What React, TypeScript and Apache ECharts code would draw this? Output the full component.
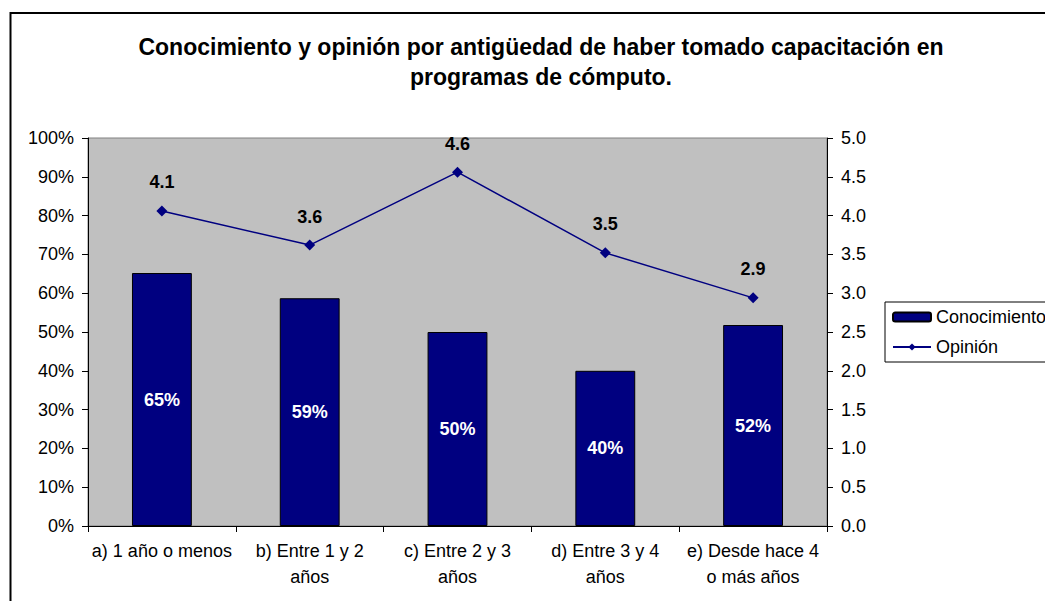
import React, { useEffect, useRef } from "react";
import * as echarts from "echarts";

const categories = [
  "a) 1 año o menos",
  "b) Entre 1 y 2\naños",
  "c) Entre 2 y 3\naños",
  "d) Entre 3 y 4\naños",
  "e) Desde hace 4\no más años",
];
const conocimiento = [0.652, 0.587, 0.5, 0.4, 0.518];
const opinion = [4.06, 3.62, 4.56, 3.52, 2.94];
const leftTicks = [0, 0.1, 0.2, 0.3, 0.4, 0.5, 0.6, 0.7, 0.8, 0.9, 1.0];
const rightTicks = [0, 0.5, 1, 1.5, 2, 2.5, 3, 3.5, 4, 4.5, 5];
const titleText =
  "Conocimiento y opinión por antigüedad de haber tomado capacitación en\nprogramas de cómputo.";

const FONT = "'Liberation Sans', Arial, sans-serif";
const NAVY = "#000080";

export default function App() {
  const ref = useRef<HTMLDivElement>(null);
  useEffect(() => {
    if (!ref.current) return;
    const chart = echarts.init(ref.current, undefined, { renderer: "svg" });
    chart.setOption({
      animation: false,
      backgroundColor: "#ffffff",
      textStyle: { fontFamily: FONT },
      title: {
        text: titleText,
        left: 536,
        top: 27,
        textAlign: "center",
        textStyle: {
          fontFamily: FONT,
          fontSize: 23,
          fontWeight: "bold",
          color: "#000",
          lineHeight: 30,
        },
      },
      graphic: [
        {
          type: "rect",
          shape: { x: 10.5, y: 13, width: 1200, height: 800 },
          style: { fill: "none", stroke: "#000", lineWidth: 2 },
          silent: true,
        },
      ],
      legend: {
        orient: "vertical",
        left: 885,
        top: 302,
        padding: [6, 40, 6, 7],
        itemGap: 12,
        itemWidth: 38,
        itemHeight: 9,
        borderColor: "#000",
        borderWidth: 1,
        backgroundColor: "#fff",
        textStyle: { fontFamily: FONT, fontSize: 18, color: "#000" },
        data: ["Conocimiento", "Opinión"],
      },
      grid: {
        left: 88,
        right: 218,
        top: 138,
        bottom: 75,
        show: true,
        backgroundColor: "#c0c0c0",
        borderColor: "#808080",
        borderWidth: 1,
      },
      xAxis: {
        type: "category",
        data: categories,
        axisLine: { lineStyle: { color: "#000", width: 1 } },
        axisTick: { show: true, length: 6, lineStyle: { color: "#000" } },
        axisLabel: {
          fontFamily: FONT,
          fontSize: 18,
          color: "#000",
          lineHeight: 26,
          margin: 12,
          interval: 0,
        },
      },
      yAxis: [
        {
          type: "value",
          min: leftTicks[0],
          max: leftTicks[leftTicks.length - 1],
          interval: 0.1,
          splitLine: { show: false },
          axisLine: { show: true, lineStyle: { color: "#000" } },
          axisTick: { show: true, length: 6, lineStyle: { color: "#000" } },
          axisLabel: {
            fontFamily: FONT,
            fontSize: 18,
            color: "#000",
            margin: 14,
            formatter: (v: number) => Math.round(v * 100) + "%",
          },
        },
        {
          type: "value",
          min: rightTicks[0],
          max: rightTicks[rightTicks.length - 1],
          interval: 0.5,
          splitLine: { show: false },
          axisLine: { show: true, lineStyle: { color: "#000" } },
          axisTick: { show: true, length: 6, lineStyle: { color: "#000" } },
          axisLabel: {
            fontFamily: FONT,
            fontSize: 18,
            color: "#000",
            margin: 14,
            formatter: (v: number) => v.toFixed(1),
          },
        },
      ],
      series: [
        {
          name: "Conocimiento",
          type: "bar",
          yAxisIndex: 0,
          data: conocimiento,
          barWidth: "40.5%",
          itemStyle: { color: NAVY, borderColor: "#000", borderWidth: 1 },
          label: {
            show: true,
            position: "inside",
            color: "#fff",
            fontFamily: FONT,
            fontSize: 18,
            fontWeight: "bold",
            formatter: (p: any) => Math.round(p.value * 100) + "%",
          },
        },
        {
          name: "Opinión",
          type: "line",
          yAxisIndex: 1,
          data: opinion,
          symbol: "diamond",
          symbolSize: 11,
          lineStyle: { color: NAVY, width: 1.5 },
          itemStyle: { color: NAVY },
          label: {
            show: true,
            position: "top",
            distance: 14,
            color: "#000",
            fontFamily: FONT,
            fontSize: 18,
            fontWeight: "bold",
            formatter: (p: any) => p.value.toFixed(1),
          },
        },
      ],
    });
    return () => chart.dispose();
  }, []);
  return (
    <div
      ref={ref}
      style={{ position: "fixed", left: 0, top: 0, width: 1045, height: 601 }}
    />
  );
}
